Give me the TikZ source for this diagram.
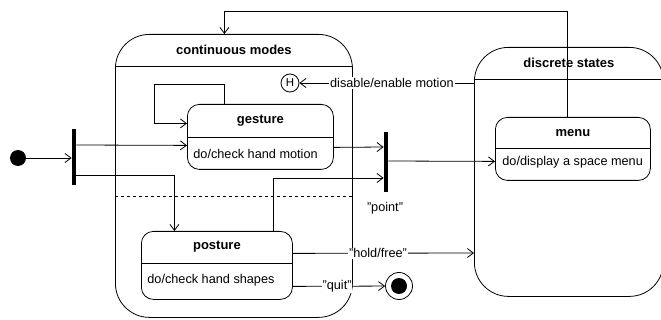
\documentclass[tikz,border=0pt]{standalone}
\usepackage{fontspec}
\setmainfont{Liberation Sans}
\usetikzlibrary{arrows.meta,calc}
\begin{document}
\begin{tikzpicture}[x=1pt,y=-1pt,
  line width=0.8pt,
  >={Straight Barb[length=6pt,width=9pt]},
  every node/.style={font=\fontsize{12.7}{14}\selectfont},
  statebox/.style={draw,rectangle,rounded corners=12pt,inner sep=0pt,anchor=north west},
  compbox/.style={draw,rectangle,rounded corners=34pt,inner sep=0pt,anchor=north west},
  head/.style={font=\fontsize{13}{15}\selectfont\bfseries,inner sep=0pt},
  body/.style={anchor=west,inner sep=0pt},
  bar/.style={fill=black,draw=none,rectangle,inner sep=0pt,minimum width=4pt},
  lbl/.style={fill=white,inner sep=1pt}]
\clip (0,0) rectangle (661,320);
\fill[white] (0,0) rectangle (661,320);

% composite states
\node[compbox,minimum width=237pt,minimum height=283pt] (cont) at (115,34) {};
\node[compbox,minimum width=189pt,minimum height=249pt] (disc) at (474,47) {};
\draw ([yshift=-32pt]cont.north west) -- ([yshift=-32pt]cont.north east);
\draw ([yshift=-32pt]disc.north west) -- ([yshift=-32pt]disc.north east);
\node[head] (conthead) at ([yshift=-16pt]cont.north) {continuous modes};
\node[head] (dischead) at ([yshift=-16pt]disc.north) {discrete states};
\draw[dashed] (cont.west |- 0,196) -- (cont.east |- 0,196);

% simple states
\node[statebox,minimum width=146pt,minimum height=65pt] (gesture) at (187,104) {};
\draw ([yshift=-33pt]gesture.north west) -- ([yshift=-33pt]gesture.north east);
\node[head] (gesturehead) at ([yshift=-17pt]gesture.north) {gesture};
\node[body] (gesturebody) at ([xshift=6pt,yshift=16pt]gesture.south west) {do/check hand motion};

\node[statebox,minimum width=151pt,minimum height=68pt] (posture) at (141,231) {};
\draw ([yshift=-32pt]posture.north west) -- ([yshift=-32pt]posture.north east);
\node[head] (posturehead) at ([yshift=-16pt]posture.north) {posture};
\node[body] (posturebody) at ([xshift=6pt,yshift=20pt]posture.south west) {do/check hand shapes};

\node[statebox,minimum width=155pt,minimum height=63pt] (menu) at (495,117) {};
\draw ([yshift=-31pt]menu.north west) -- ([yshift=-31pt]menu.north east);
\node[head] (menuhead) at ([yshift=-16pt]menu.north) {menu};
\node[body] (menubody) at ([xshift=7pt,yshift=19pt]menu.south west) {do/display a space menu};

% pseudo states
\node[circle,fill=black,inner sep=0pt,minimum size=16pt] (init) at (18,158) {};
\node[bar,minimum height=56pt] (fork) at (74,157) {};
\node[bar,minimum height=60pt] (join) at (386,162) {};
\node[inner sep=0pt] (point) at (385,208) {"point"};
\node[circle,draw,inner sep=0pt,minimum size=18pt,font=\fontsize{11.5}{12}\selectfont] (hist) at (290,83) {H};
\node[circle,draw,inner sep=0pt,minimum size=27pt] (final) at (399,286) {};
\node[circle,fill=black,inner sep=0pt,minimum size=16pt] (finaldot) at (final) {};

% transitions
\draw[->] (init) -- (init -| fork.west);
\draw[->] ([yshift=12pt]fork.east) -- ([yshift=-8.5pt]gesture.west);
\draw[->] ([yshift=-18pt]fork.east) -| ([xshift=-42.5pt]posture.north);
\draw[->] ([xshift=-36pt]gesture.north) |- (154,84) |- ([yshift=13.5pt]gesture.west);
\draw[->] ([yshift=-10.5pt]gesture.east) -- ([yshift=15pt]join.west);
\draw[->] ([yshift=1pt]join.east) -- ([yshift=-12.5pt]menu.west);
\draw[->] ([xshift=56.5pt]posture.north) |- ([yshift=-16pt]join.west);
\draw[->] ([xshift=-5.5pt]menu.north) -- ++(0,-106) -| ([xshift=-9.5pt]cont.north);
\draw[->] (disc.west |- hist) -- node[lbl,pos=0.47] (disablelbl) {disable/enable motion} (hist);
\draw[->] ([yshift=12pt]posture.east) -- node[lbl,pos=0.47] (holdlbl) {"hold/free"} (disc.west |- 0,253);
\draw[->] ([yshift=-21pt]posture.east) -- node[lbl,pos=0.48,inner sep=0.5pt] (quitlbl) {"quit"} (final);
\end{tikzpicture}
\end{document}
